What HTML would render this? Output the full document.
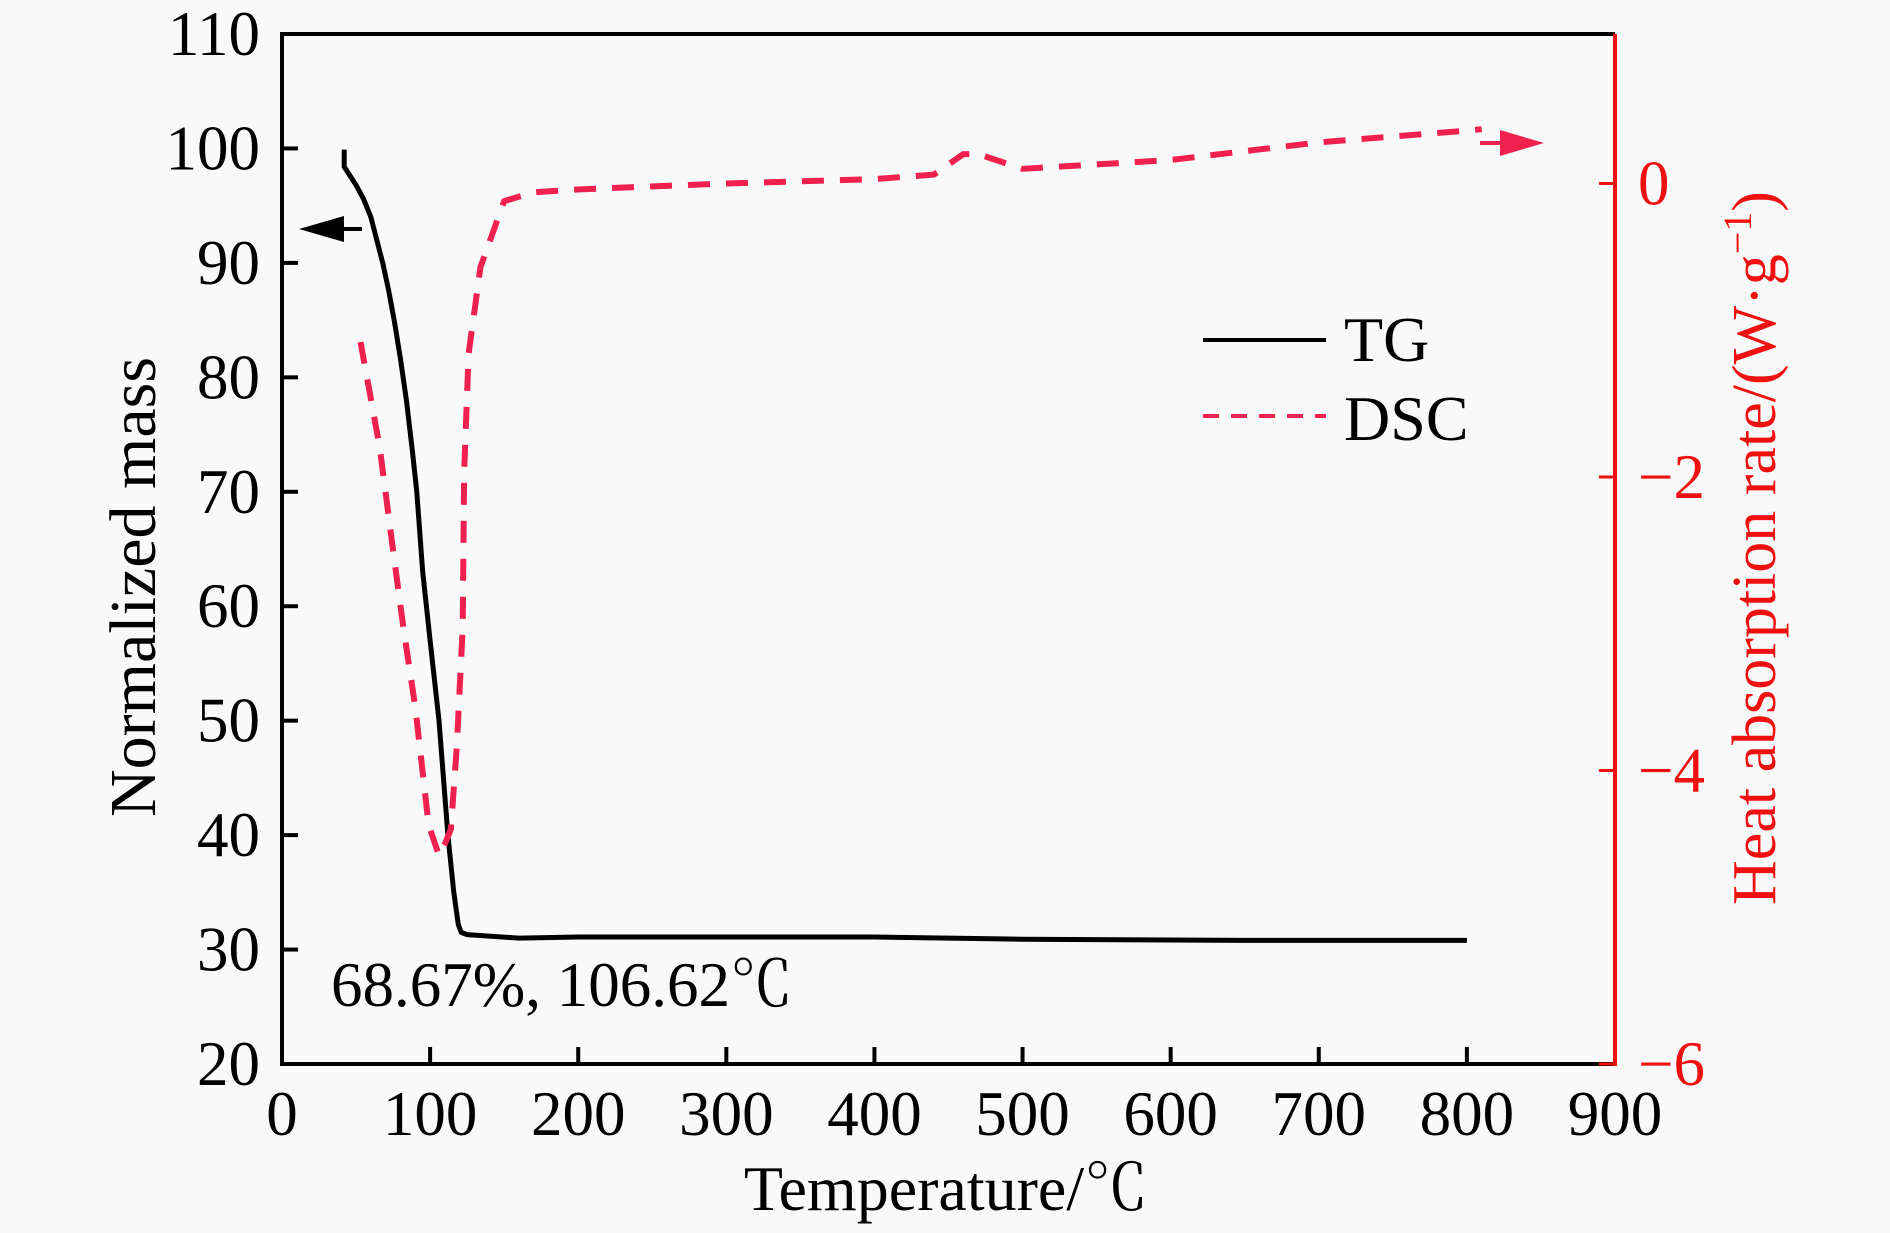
<!DOCTYPE html>
<html><head><meta charset="utf-8"><style>
body{margin:0;background:#f9f9f9;}
svg{display:block;font-family:"Liberation Serif","Noto Serif CJK SC",serif;}
</style></head><body>
<svg id="chart" width="1890" height="1233" viewBox="0 0 1890 1233">
<rect width="1890" height="1233" fill="#f9f9f9"/>
<g id="axes"></g>
<g id="series"></g>
<text x="331" y="1006" font-size="63" fill="#000">68.67%, 106.62℃</text>
<g>
<line x1="1203" y1="340" x2="1326" y2="340" stroke="#000" stroke-width="4"/>
<text x="1344" y="361" font-size="64">TG</text>
<line x1="1203" y1="416" x2="1326" y2="416" stroke="#f0204f" stroke-width="4" stroke-dasharray="16,12"/>
<text x="1344" y="440" font-size="64">DSC</text>
</g>
<g>
<line x1="330" y1="229" x2="362" y2="229" stroke="#000" stroke-width="4"/>
<polygon points="299,229 344,216 344,242" fill="#000"/>
</g>
<g>
<line x1="1480" y1="143" x2="1515" y2="143" stroke="#f0204f" stroke-width="4"/>
<polygon points="1544,143 1500,130 1500,156" fill="#f0204f"/>
</g>
<text transform="translate(155,587) rotate(-90)" text-anchor="middle" font-size="66">Normalized mass</text>
<text transform="translate(1775,548) rotate(-90)" text-anchor="middle" font-size="62" fill="#f01010">Heat absorption rate/(W·g<tspan dy="-24" font-size="40">−1</tspan><tspan dy="24">)</tspan></text>
<text x="946" y="1210" text-anchor="middle" font-size="64">Temperature/℃</text>
</svg>
<script>
const xTicks=[0,100,200,300,400,500,600,700,800,900];
const massTicks=[20,30,40,50,60,70,80,90,100,110];
const heatTicks=[0,-2,-4,-6];
const tgTemp=[42,42,46,50,55,60,64,68,72,76,80,84,88,91,95,100,106,112,116,119,121,125,160,200,400,500,650,800];
const tgMass=[99.9,98.4,97.6,96.8,95.6,94.0,92.0,90.0,87.6,84.8,81.6,78.0,73.6,70,63,57,50,40,35,32.2,31.5,31.3,31.0,31.1,31.1,30.9,30.8,30.8];
const dscTemp=[53,66,75,82,90,99,106,110,114,118,122,123,126,134,150,170,201,300,400,440,460,470,500,600,700,800,810];
const dscHeat=[-1.08,-1.8,-2.5,-3.03,-3.57,-4.37,-4.58,-4.5,-4.4,-3.84,-3.03,-1.96,-1.16,-0.57,-0.12,-0.06,-0.04,0.0,0.03,0.06,0.2,0.2,0.1,0.16,0.28,0.36,0.37];
const L=282,R=1615,T=34,B=1064;
const xs=v=>L+(v-0)/900*(R-L);
const ym=v=>B-(v-20)/90*(B-T);
const yh=v=>B-(v+6)/7.0186*(B-T);
const NS='http://www.w3.org/2000/svg';
const ax=document.getElementById('axes'),se=document.getElementById('series');
function mk(tag,attrs,parent){const e=document.createElementNS(NS,tag);for(const k in attrs)e.setAttribute(k,attrs[k]);parent.appendChild(e);return e;}
let e;
e=mk('polyline',{points:`${R},${T} ${L},${T} ${L},${B} ${R},${B}`,fill:'none',stroke:'#000','stroke-width':4},ax);


e=mk('line',{x1:R,y1:T,x2:R,y2:B+2,stroke:'#f01010','stroke-width':4},ax);


xTicks.forEach(v=>{
 if(v>0&&v<900){e=mk('line',{x1:xs(v),y1:B,x2:xs(v),y2:B-17,stroke:'#000','stroke-width':4},ax);
 
 }
 e=mk('text',{x:xs(v),y:1135,'text-anchor':'middle','font-size':63},ax);e.textContent=v;
 
 
});
massTicks.forEach(v=>{
 if(v>20&&v<110){e=mk('line',{x1:L,y1:ym(v),x2:L+16,y2:ym(v),stroke:'#000','stroke-width':4},ax);
 
 }
 e=mk('text',{x:260,y:ym(v)+21,'text-anchor':'end','font-size':63},ax);e.textContent=v;
 
 
});
heatTicks.forEach(v=>{
 e=mk('line',{x1:R-16,y1:yh(v),x2:R,y2:yh(v),stroke:'#f01010','stroke-width':3},ax);
 
 
 e=mk('text',{x:1638,y:yh(v)+21,'font-size':63,fill:'#f01010'},ax);e.textContent=v<0?'−'+(-v):v;
 
 
});
e=mk('polyline',{points:tgTemp.map((t,i)=>xs(t)+','+ym(tgMass[i])).join(' '),fill:'none',stroke:'#000','stroke-width':5,'stroke-linejoin':'round'},se);


e=mk('polyline',{points:dscTemp.map((t,i)=>xs(t)+','+yh(dscHeat[i])).join(' '),fill:'none',stroke:'#f0204f','stroke-width':6,'stroke-dasharray':'22,16','stroke-linejoin':'round'},se);


</script>
</body></html>
